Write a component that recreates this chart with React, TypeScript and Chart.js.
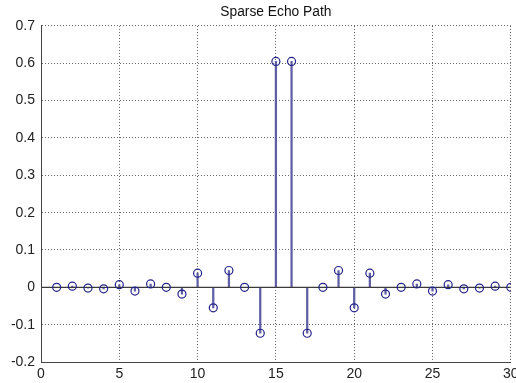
import React, { useEffect, useRef } from "react";
import { Chart, registerables } from "chart.js";

Chart.register(...registerables);

const titleText = "Sparse Echo Path";
const sampleIndex = [
  1, 2, 3, 4, 5, 6, 7, 8, 9, 10, 11, 12, 13, 14, 15,
  16, 17, 18, 19, 20, 21, 22, 23, 24, 25, 26, 27, 28, 29, 30,
];
const echoValues = [
  0.0, 0.003, -0.002, -0.004, 0.007, -0.01, 0.009, 0.0, -0.018, 0.038,
  -0.055, 0.045, 0.0, -0.123, 0.605, 0.605, -0.123, 0.0, 0.045, -0.055,
  0.038, -0.018, 0.0, 0.009, -0.01, 0.007, -0.004, -0.002, 0.003, 0.0,
];
const xRange = [0, 30];
const yRange = [-0.2, 0.7];
const xStep = 5;
const yStep = 0.1;
const baselineValue = 0;

const FONT = "'Liberation Sans', Arial, Helvetica, sans-serif";

export default function App() {
  const canvasRef = useRef<HTMLCanvasElement | null>(null);

  useEffect(() => {
    document.body.style.margin = "0";
    const canvas = canvasRef.current;
    if (!canvas) return;

    const points = sampleIndex.map((x, i) => ({ x, y: echoValues[i] }));
    const baseline = [
      { x: xRange[0], y: baselineValue },
      { x: xRange[1], y: baselineValue },
    ];

    const chart = new Chart(canvas, {
      type: "bar",
      data: {
        datasets: [
          {
            type: "line",
            data: points,
            showLine: false,
            pointStyle: "circle",
            pointRadius: 4,
            pointBorderWidth: 1.2,
            pointBorderColor: "#22228a",
            pointBackgroundColor: "rgba(0,0,0,0)",
          } as any,
          {
            type: "line",
            data: baseline,
            borderColor: "#3a3a3a",
            borderWidth: 1.3,
            pointRadius: 0,
          } as any,
          {
            type: "bar",
            data: points,
            backgroundColor: "#5f5fa6",
            borderWidth: 0,
            barThickness: 1.6,
          } as any,
        ],
      },
      options: {
        animation: false,
        responsive: true,
        maintainAspectRatio: false,
        layout: { padding: { left: 0, right: 3, top: 0, bottom: 0 } },
        plugins: {
          legend: { display: false },
          tooltip: { enabled: false },
          title: {
            display: true,
            text: titleText,
            fullSize: false,
            color: "#111",
            font: { family: FONT, size: 13.8, weight: "normal", lineHeight: 1.2 },
            padding: { top: 4, bottom: 5.4 },
          },
        },
        scales: {
          x: {
            type: "linear",
            min: xRange[0],
            max: xRange[1],
            offset: false,
            grid: { color: "#666", lineWidth: 1, drawTicks: false, offset: false },
            border: { display: true, color: "#444", width: 1, dash: [1, 2] },
            ticks: {
              stepSize: xStep,
              padding: 4,
              color: "#222",
              maxRotation: 0,
              font: { family: FONT, size: 14 },
            },
            afterFit: (scale: any) => {
              scale.height = 21;
              scale.paddingLeft = 0;
              scale.paddingRight = 0;
            },
          },
          y: {
            type: "linear",
            min: yRange[0],
            max: yRange[1],
            grid: { color: "#666", lineWidth: 1, drawTicks: false },
            border: { display: true, color: "#444", width: 1, dash: [1, 2] },
            ticks: {
              stepSize: yStep,
              padding: 6,
              color: "#222",
              font: { family: FONT, size: 14 },
              callback: (v: any) => String(Number(Number(v).toFixed(1))),
            },
            afterFit: (scale: any) => {
              scale.width = 41;
              scale.paddingTop = 0;
              scale.paddingBottom = 0;
            },
          },
        },
      },
    });

    return () => chart.destroy();
  }, []);

  return (
    <div style={{ width: 516, height: 383, position: "relative", background: "#fff" }}>
      <canvas ref={canvasRef} />
    </div>
  );
}
